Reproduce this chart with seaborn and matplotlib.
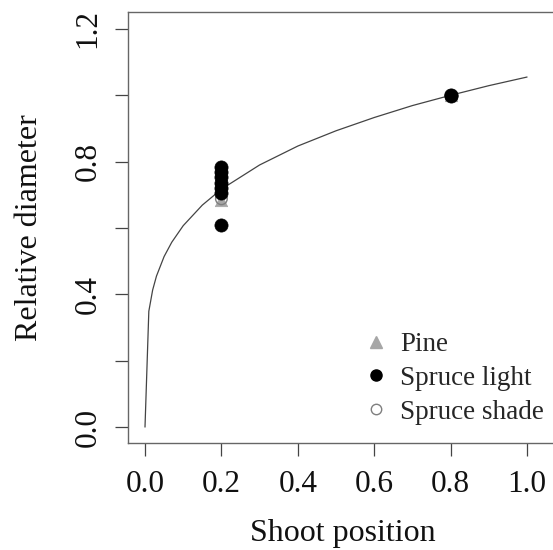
import numpy as np
import pandas as pd
import matplotlib
matplotlib.use('Agg')
import matplotlib.pyplot as plt
import seaborn as sns
from matplotlib.lines import Line2D

# 数据
pine_x = [0.2, 0.8]
pine_y = [0.685, 1.0]
light_x = [0.2, 0.2, 0.2, 0.2, 0.2, 0.2, 0.2, 0.8, 0.8]
light_y = [0.785, 0.77, 0.755, 0.735, 0.72, 0.705, 0.608, 1.0, 0.998]
shade_x = [0.2, 0.8]
shade_y = [0.688, 1.0]

# 拟合曲线上读取的点
curve_x = [0.0, 0.01, 0.02, 0.03, 0.05, 0.07, 0.1, 0.15, 0.2, 0.3, 0.4, 0.5, 0.6, 0.7, 0.8, 0.9, 1.0]
curve_y = [0.0, 0.349, 0.413, 0.455, 0.514, 0.557, 0.607, 0.669, 0.717, 0.790, 0.847, 0.893, 0.933, 0.969, 1.000, 1.029, 1.055]

x_ticks = [0.0, 0.2, 0.4, 0.6, 0.8, 1.0]
x_ticklabels = ['0.0', '0.2', '0.4', '0.6', '0.8', '1.0']
y_ticks = [0.0, 0.2, 0.4, 0.6, 0.8, 1.0, 1.2]
y_ticklabels = ['0.0', '', '0.4', '', '0.8', '', '1.2']
legend_labels = ['Pine', 'Spruce light', 'Spruce shade']

sns.set_style('ticks')
plt.rcParams['font.family'] = ['Liberation Serif', 'DejaVu Serif']

fig = plt.figure(figsize=(5.53, 5.5), dpi=100)
# 坐标框右侧超出画布（原图被裁切）
ax = fig.add_axes([128 / 553, 107 / 550, (558 - 128) / 553, (538 - 107) / 550])

curve_df = pd.DataFrame({'x': curve_x, 'y': curve_y})
sns.lineplot(data=curve_df, x='x', y='y', sort=False, estimator=None,
             color='#444444', linewidth=0.9, ax=ax)

pine_df = pd.DataFrame({'x': pine_x, 'y': pine_y})
shade_df = pd.DataFrame({'x': shade_x, 'y': shade_y})
light_df = pd.DataFrame({'x': light_x, 'y': light_y})

sns.scatterplot(data=pine_df, x='x', y='y', marker='^', s=80, color='#a6a6a6',
                edgecolor='#a6a6a6', linewidth=0.5, ax=ax, zorder=3)
sns.scatterplot(data=shade_df, x='x', y='y', marker='o', s=70, facecolor='none',
                edgecolor='#7f7f7f', linewidth=1.0, ax=ax, zorder=3)
sns.scatterplot(data=light_df, x='x', y='y', marker='o', s=90, color='black',
                edgecolor='black', linewidth=0.5, ax=ax, zorder=4)

ax.set_xlim(-0.0445, 1.081)
ax.set_ylim(-0.048, 1.251)
ax.set_xticks(x_ticks)
ax.set_xticklabels(x_ticklabels)
ax.set_yticks(y_ticks)
ax.set_yticklabels(y_ticklabels, rotation=90, va='center')

for side in ['left', 'bottom', 'top', 'right']:
    ax.spines[side].set_visible(True)
    ax.spines[side].set_color('#666666')
    ax.spines[side].set_linewidth(1.0)

ax.tick_params(axis='both', direction='out', length=9.5, width=0.9,
               color='#444444', labelsize=22.5, labelcolor='#111111')
ax.tick_params(axis='x', pad=10)
ax.tick_params(axis='y', pad=9)

ax.set_xlabel('Shoot position', fontsize=23, color='#111111', labelpad=14)
ax.set_ylabel('Relative diameter', fontsize=23, color='#111111', labelpad=21)

handles = [
    Line2D([], [], marker='^', linestyle='none', markersize=8.5,
           markerfacecolor='#a6a6a6', markeredgecolor='#a6a6a6'),
    Line2D([], [], marker='o', linestyle='none', markersize=8,
           markerfacecolor='black', markeredgecolor='black'),
    Line2D([], [], marker='o', linestyle='none', markersize=7.5,
           markerfacecolor='none', markeredgecolor='#7f7f7f', markeredgewidth=1.0),
]
fig.legend(handles, legend_labels, loc='upper left',
           bbox_to_anchor=(362 / 553, 1 - 332 / 550), bbox_transform=fig.transFigure,
           frameon=False, fontsize=19.5, borderpad=0, borderaxespad=0,
           handlelength=1.0, handletextpad=0.4, labelspacing=0.33)

fig.savefig('out.png', dpi=100)
